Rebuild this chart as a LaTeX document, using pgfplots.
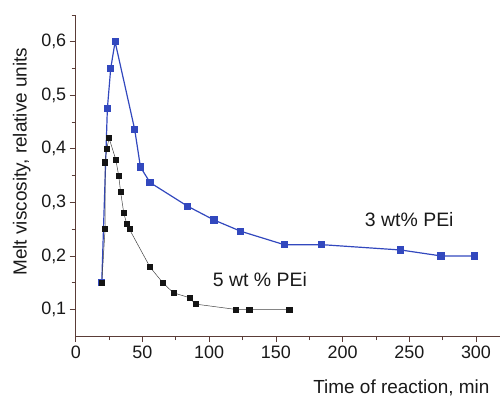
\documentclass[border=0pt]{standalone}
\usepackage{fontspec}
\setmainfont{Liberation Sans}
\usepackage{pgfplots}
\pgfplotsset{compat=1.18}
\definecolor{serblue}{RGB}{50,72,190}
\definecolor{axcol}{RGB}{90,60,55}
\definecolor{serblack}{RGB}{20,20,20}
\begin{document}
\begin{tikzpicture}
\begin{axis}[
  scale only axis, width=424bp, height=321bp,
  xmin=0, xmax=318, ymin=0.05, ymax=0.65,
  axis x line*=bottom, axis y line*=left,
  hide obscured x ticks=false, hide obscured y ticks=false,
  axis line style={axcol, line width=0.8pt},
  xtick={0,50,100,150,200,250,300},
  minor xtick={25,75,125,175,225,275},
  ytick={0.1,0.2,0.3,0.4,0.5,0.6},
  minor ytick={0.15,0.25,0.35,0.45,0.55,0.65},
  tick align=outside,
  major tick length=6bp, minor tick length=4bp,
  tick style={axcol, line width=0.7pt},
  /pgf/number format/assume math mode=true,
  ticklabel style={font=\fontsize{18}{20}\selectfont, text=black!90},
  yticklabel style={/pgf/number format/.cd, fixed, fixed zerofill, precision=1, use comma},
  xticklabel style={/pgf/number format/.cd, fixed, precision=0},
  label style={font=\fontsize{19}{22}\selectfont, text=black!90},
  xlabel={Time of reaction, min},
  ylabel={Melt viscosity, relative units},
  xlabel style={at={(rel axis cs:1,0)}, anchor=base east, yshift=-57bp, xshift=-7bp},
  ylabel style={at={(rel axis cs:0,0.5)}, anchor=center, rotate=0, xshift=14bp, yshift=54bp},
  clip=false,
]
\addplot[serblue, line width=1.2pt, mark=square*, mark size=3bp, mark options={serblue, solid}]
  coordinates {
  (19.5,0.15) (23.7,0.475) (26.2,0.55) (29.5,0.6) (44.2,0.436) (48.5,0.366)
  (55.7,0.337) (83.7,0.293) (103.7,0.267) (123.7,0.246) (156.2,0.221)
  (184.5,0.221) (243.7,0.211) (273.7,0.2) (298.7,0.2)
  };
\addplot[serblack!80, line width=0.5pt, mark=square*, mark size=2.6bp, mark options={serblack, solid}]
  coordinates {
  (19.5,0.15) (22,0.25) (22,0.375) (23.2,0.4) (25,0.42) (30,0.38) (32.2,0.35)
  (33.6,0.32) (36,0.28) (38.2,0.26) (40.2,0.25) (55.7,0.179) (65.2,0.15)
  (73.2,0.131) (85.2,0.122) (89.7,0.11) (120,0.1) (130,0.1) (160,0.1)
  };
\node[font=\fontsize{19.5}{22}\selectfont, text=black!90] at (axis cs:250,0.268) {3 wt\% PEi};
\node[font=\fontsize{19.5}{22}\selectfont, text=black!90] at (axis cs:138,0.156) {5 wt \% PEi};
\coordinate (BL) at (rel axis cs:0,0);
\coordinate (TR) at (rel axis cs:1,1);
\end{axis}
\pgfresetboundingbox
\path ([xshift=-75.7bp,yshift=-63bp]BL) rectangle ([yshift=15bp]TR);
\end{tikzpicture}
\end{document}
